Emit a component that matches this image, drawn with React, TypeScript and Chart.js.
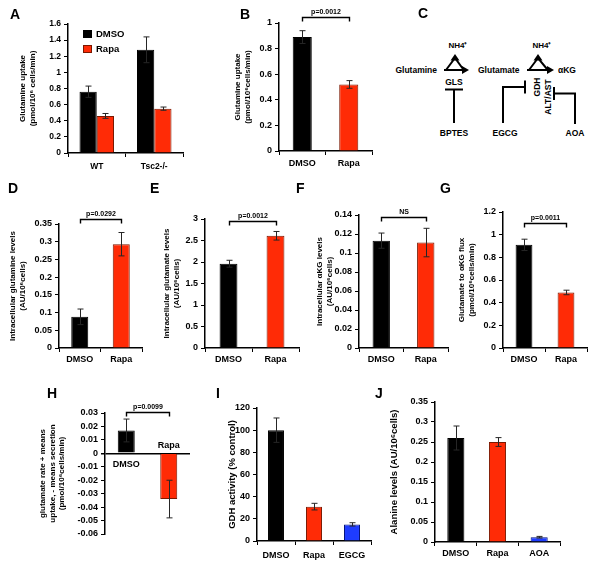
import React, { useEffect, useRef } from "react";
import { Chart, registerables } from "chart.js";
Chart.register(...registerables);

// ---------- DATA ----------
const aCategories = ["WT", "Tsc2-/-"];
const aDmso = [0.76, 1.28];
const aDmsoErr = [0.07, 0.16];
const aRapa = [0.46, 0.55];
const aRapaErr = [0.03, 0.02];

const twoLabels = ["DMSO", "Rapa"];
const bValues = [0.89, 0.52];
const bErr = [0.05, 0.03];
const dValues = [0.088, 0.293];
const dErr = [0.022, 0.033];
const eValues = [1.96, 2.61];
const eErr = [0.08, 0.1];
const fValues = [0.113, 0.111];
const fErr = [0.008, 0.015];
const gValues = [0.91, 0.49];
const gErr = [0.05, 0.02];
const hValues = [0.017, -0.034];
const hErr = [0.0085, 0.014];
const iLabels = ["DMSO", "Rapa", "EGCG"];
const iValues = [100, 31, 15];
const iErr = [11, 3, 1.5];
const jLabels = ["DMSO", "Rapa", "AOA"];
const jValues = [0.26, 0.25, 0.012];
const jErr = [0.03, 0.011, 0.002];

// ---------- STYLE ----------
const FONT = "'Liberation Sans', Arial, Helvetica, sans-serif";
const BLACK = "#000000";
const RED = "#FF2B06";
const RED_EDGE = "#7A1800";
const BLUE = "#1E3CFF";
const BLUE_EDGE = "#00107A";

type DS = { label: string; data: number[]; errors: number[]; bg: string[]; border: string[] };
type Spec = {
  labels: string[];
  datasets: DS[];
  left: number; right: number; top: number; bottom: number;
  min: number; max: number; step: number;
  title: string[]; titleX: number; titleSize?: number;
  tickFont: number;
  barFrac: number; catFrac: number;
  labelPad: number;
  bracket?: { text: string; y: number };
  legend?: boolean;
  zeroAxis?: boolean;
};

const two = (v: number[], e: number[]): DS[] => [
  { label: "v", data: v, errors: e, bg: [BLACK, RED], border: [BLACK, RED_EDGE] },
];
const three = (v: number[], e: number[]): DS[] => [
  { label: "v", data: v, errors: e, bg: [BLACK, RED, BLUE], border: [BLACK, RED_EDGE, BLUE_EDGE] },
];

const specs: Spec[] = [
  {
    labels: aCategories,
    datasets: [
      { label: "DMSO", data: aDmso, errors: aDmsoErr, bg: [BLACK, BLACK], border: [BLACK, BLACK] },
      { label: "Rapa", data: aRapa, errors: aRapaErr, bg: [RED, RED], border: [RED_EDGE, RED_EDGE] },
    ],
    left: 68, right: 183, top: 24, bottom: 153, min: 0, max: 1.6, step: 0.2,
    title: ["Glutamine uptake", "(pmol/10⁶ cells/min)"], titleX: 23,
    tickFont: 8.5, barFrac: 1, catFrac: 0.6, labelPad: 5, legend: true,
  },
  {
    labels: twoLabels, datasets: two(bValues, bErr),
    left: 279, right: 372, top: 23, bottom: 151, min: 0, max: 1, step: 0.2,
    title: ["Glutamine uptake", "(pmol/10⁶cells/min)"], titleX: 238,
    tickFont: 9, barFrac: 0.41, catFrac: 1, labelPad: 3,
    bracket: { text: "p=0.0012", y: 1.047 },
  },
  {
    labels: twoLabels, datasets: two(dValues, dErr),
    left: 59, right: 142, top: 224, bottom: 348, min: 0, max: 0.35, step: 0.05,
    title: ["Intracellular glutamine levels", "(AU/10⁶cells)"], titleX: 13,
    tickFont: 9, barFrac: 0.41, catFrac: 1, labelPad: 2,
    bracket: { text: "p=0.0292", y: 0.364 },
  },
  {
    labels: twoLabels, datasets: two(eValues, eErr),
    left: 205, right: 299, top: 219, bottom: 348, min: 0, max: 3, step: 0.5,
    title: ["Intracellular glutamate levels", "(AU/10⁶cells)"], titleX: 167,
    tickFont: 9, barFrac: 0.38, catFrac: 1, labelPad: 2,
    bracket: { text: "p=0.0012", y: 2.95 },
  },
  {
    labels: twoLabels, datasets: two(fValues, fErr),
    left: 359, right: 448, top: 215, bottom: 348, min: 0, max: 0.14, step: 0.02,
    title: ["Intracellular αKG levels", "(AU/10⁶cells)"], titleX: 320,
    tickFont: 9, barFrac: 0.39, catFrac: 1, labelPad: 2,
    bracket: { text: "NS", y: 0.138 },
  },
  {
    labels: twoLabels, datasets: two(gValues, gErr),
    left: 503, right: 587, top: 212, bottom: 348, min: 0, max: 1.2, step: 0.2,
    title: ["Glutamate to αKG flux", "(pmol/10⁶cells/min)"], titleX: 462,
    tickFont: 9, barFrac: 0.4, catFrac: 1, labelPad: 2,
    bracket: { text: "p=0.0011", y: 1.1 },
  },
  {
    labels: twoLabels, datasets: two(hValues, hErr),
    left: 105, right: 190, top: 413, bottom: 558, min: -0.06, max: 0.03, step: 0.01,
    title: ["glutamate rate + means", "uptake, - means secretion", "(pmol/10⁶cells/min)"], titleX: 43,
    tickFont: 9, barFrac: 0.4, catFrac: 1, labelPad: 2,
    bracket: { text: "p=0.0099", y: 0.0306 }, zeroAxis: true,
  },
  {
    labels: iLabels, datasets: three(iValues, iErr),
    left: 257, right: 371, top: 408, bottom: 541, min: 0, max: 120, step: 20,
    title: ["GDH activity (% control)"], titleX: 232, titleSize: 9.5,
    tickFont: 9, barFrac: 0.42, catFrac: 1, labelPad: 5,
  },
  {
    labels: jLabels, datasets: three(jValues, jErr),
    left: 435, right: 560, top: 402, bottom: 542, min: 0, max: 0.35, step: 0.05,
    title: ["Alanine levels (AU/10⁶cells)"], titleX: 394, titleSize: 9.5,
    tickFont: 9, barFrac: 0.41, catFrac: 1, labelPad: 2,
  },
];

const panelLetters = [
  { t: "A", x: 10, y: 6 }, { t: "B", x: 240, y: 6 }, { t: "C", x: 418, y: 5 },
  { t: "D", x: 8, y: 180 }, { t: "E", x: 150, y: 180 }, { t: "F", x: 296, y: 180 }, { t: "G", x: 440, y: 180 },
  { t: "H", x: 47, y: 385 }, { t: "I", x: 216, y: 385 }, { t: "J", x: 375, y: 385 },
];

// ---------- PLUGINS ----------
const errorBarPlugin = {
  id: "errorBars",
  afterDatasetsDraw(chart: any) {
    const ctx = chart.ctx;
    const ys = chart.scales.y;
    chart.data.datasets.forEach((ds: any, di: number) => {
      const meta = chart.getDatasetMeta(di);
      meta.data.forEach((el: any, i: number) => {
        const v = ds.data[i];
        const e = ds.errors[i];
        const x = Math.round(el.x) + 0.5;
        const y1 = ys.getPixelForValue(v + e);
        const y2 = ys.getPixelForValue(v - e);
        ctx.save();
        ctx.strokeStyle = "#262626";
        ctx.lineWidth = 1;
        ctx.beginPath();
        ctx.moveTo(x, y1); ctx.lineTo(x, y2);
        ctx.moveTo(x - 3, y1); ctx.lineTo(x + 3, y1);
        ctx.moveTo(x - 3, y2); ctx.lineTo(x + 3, y2);
        ctx.stroke();
        ctx.restore();
      });
    });
  },
};

const bracketPlugin = {
  id: "bracket",
  afterDraw(chart: any, _args: any, opts: any) {
    if (!opts || !opts.text) return;
    const ctx = chart.ctx;
    const xs = chart.scales.x;
    const ys = chart.scales.y;
    const x1 = Math.round(xs.getPixelForValue(0)) + 0.5;
    const x2 = Math.round(xs.getPixelForValue(1)) + 0.5;
    const y = Math.round(ys.getPixelForValue(opts.y)) + 0.5;
    ctx.save();
    ctx.strokeStyle = "#000";
    ctx.lineWidth = 1.4;
    ctx.beginPath();
    ctx.moveTo(x1, y + 4); ctx.lineTo(x1, y); ctx.lineTo(x2, y); ctx.lineTo(x2, y + 4);
    ctx.stroke();
    ctx.fillStyle = "#000";
    ctx.font = `bold 7px ${FONT}`;
    ctx.textAlign = "center";
    ctx.textBaseline = "bottom";
    ctx.fillText(opts.text, (x1 + x2) / 2, y - 2);
    ctx.restore();
  },
};

const legendPlugin = {
  id: "cornerLegend",
  afterDraw(chart: any, _args: any, opts: any) {
    if (!opts || !opts.show) return;
    const ctx = chart.ctx;
    const ca = chart.chartArea;
    ctx.save();
    chart.data.datasets.forEach((ds: any, i: number) => {
      const bx = ca.left + 15;
      const by = ca.top + 6 + i * 15;
      ctx.fillStyle = ds.backgroundColor[0];
      ctx.fillRect(bx, by, 9, 8);
      ctx.strokeStyle = ds.borderColor[0];
      ctx.lineWidth = 1;
      ctx.strokeRect(bx + 0.5, by + 0.5, 8, 7);
      ctx.fillStyle = "#000";
      ctx.font = `bold 9.5px ${FONT}`;
      ctx.textAlign = "left";
      ctx.textBaseline = "middle";
      ctx.fillText(ds.label, bx + 13, by + 4.5);
    });
    ctx.restore();
  },
};

const zeroLabelPlugin = {
  id: "zeroLabels",
  afterDraw(chart: any, _args: any, opts: any) {
    if (!opts || !opts.show) return;
    const ctx = chart.ctx;
    const ys = chart.scales.y;
    const y0 = ys.getPixelForValue(0);
    const meta = chart.getDatasetMeta(0);
    ctx.save();
    ctx.fillStyle = "#000";
    ctx.font = `bold 9px ${FONT}`;
    ctx.textAlign = "center";
    ctx.textBaseline = "middle";
    meta.data.forEach((el: any, i: number) => {
      const v = chart.data.datasets[0].data[i];
      ctx.fillText(chart.data.labels[i], el.x, v >= 0 ? y0 + 11 : y0 - 8);
    });
    ctx.restore();
  },
};

const fmt = (v: number) => String(Number(Number(v).toFixed(6)));

function BarPanel({ spec }: { spec: Spec }) {
  const ref = useRef<HTMLCanvasElement>(null);
  const cL = spec.titleX - 12;
  const cT = spec.top - 30;
  const cR = spec.right + 4;
  const cB = spec.bottom + 24;
  const W = cR - cL;
  const H = cB - cT;
  useEffect(() => {
    const tSize = spec.titleSize || 8;
    const lineH = tSize * 1.2;
    const chart = new Chart(ref.current as HTMLCanvasElement, {
      type: "bar",
      data: {
        labels: spec.labels,
        datasets: spec.datasets.map((d) => ({
          label: d.label,
          data: d.data,
          errors: d.errors,
          backgroundColor: d.bg,
          borderColor: d.border,
          borderWidth: 1,
          barPercentage: spec.barFrac,
          categoryPercentage: spec.catFrac,
        })) as any,
      },
      options: {
        animation: false,
        responsive: false,
        maintainAspectRatio: false,
        layout: {
          padding: {
            left: 0,
            top: spec.top - cT,
            right: cR - spec.right,
            bottom: spec.zeroAxis ? cB - spec.bottom : 0,
          },
        },
        plugins: {
          legend: { display: false },
          tooltip: { enabled: false },
          bracket: spec.bracket || {},
          cornerLegend: { show: !!spec.legend },
          zeroLabels: { show: !!spec.zeroAxis },
        } as any,
        scales: {
          x: {
            display: !spec.zeroAxis,
            afterFit: (s: any) => { s.height = cB - spec.bottom; },
            grid: {
              display: true, drawOnChartArea: false, drawTicks: true, tickLength: 4,
              color: "#000", tickColor: "#000", offset: true,
            },
            border: { display: true, color: "#000", width: 1.5 },
            ticks: {
              color: "#000", padding: spec.labelPad, maxRotation: 0, autoSkip: false,
              font: { family: FONT, size: spec.tickFont, weight: "bold" },
            },
          },
          y: {
            min: spec.min,
            max: spec.max,
            afterFit: (s: any) => { s.width = spec.left - cL; },
            grid: {
              display: true,
              drawOnChartArea: !!spec.zeroAxis,
              drawTicks: true,
              tickLength: 4,
              color: (c: any) => (spec.zeroAxis ? (Math.abs(c.tick.value) < 1e-9 ? "#000" : "rgba(0,0,0,0)") : "#000"),
              lineWidth: (c: any) => (spec.zeroAxis && Math.abs(c.tick.value) < 1e-9 ? 1.5 : 1),
              tickColor: "#000",
            },
            border: { display: true, color: "#000", width: 1.5 },
            ticks: {
              stepSize: spec.step,
              autoSkip: false,
              color: "#000",
              padding: 3,
              callback: (v: any) => fmt(v),
              font: { family: FONT, size: spec.tickFont, weight: "bold" },
            },
            title: {
              display: true,
              text: spec.title,
              color: "#000",
              font: { family: FONT, size: tSize, weight: "bold", lineHeight: 1.2 },
              padding: { top: 12 - lineH / 2, bottom: 0 },
            },
          },
        },
      } as any,
      plugins: [errorBarPlugin, bracketPlugin, legendPlugin, zeroLabelPlugin],
    });
    return () => chart.destroy();
  }, []);
  return (
    <canvas
      ref={ref}
      width={W}
      height={H}
      style={{ position: "absolute", left: cL, top: cT, width: W, height: H }}
    />
  );
}

function Pathway() {
  const txt = { fontFamily: FONT, fontWeight: "bold" as const, fontSize: 8.5, fill: "#000" };
  const sw = 2;
  return (
    <svg
      width={220}
      height={150}
      viewBox="380 0 220 150"
      style={{ position: "absolute", left: 380, top: 0 }}
    >
      <text x={437} y={73} textAnchor="end" {...txt}>Glutamine</text>
      <text x={458} y={48} textAnchor="middle" {...txt} fontSize={8}>NH4⁺</text>
      <line x1={444} y1={70} x2={463} y2={70} stroke="#000" strokeWidth={sw} />
      <polygon points="469,70 462,66 462,74" fill="#000" />
      <polyline points="446,70 455,58 463,69" fill="none" stroke="#000" strokeWidth={sw} />
      <polygon points="455,54 450.5,60.5 459.5,60.5" fill="#000" />

      <text x={478} y={73} textAnchor="start" {...txt}>Glutamate</text>
      <text x={542} y={48} textAnchor="middle" {...txt} fontSize={8}>NH4⁺</text>
      <line x1={527} y1={70} x2={548} y2={70} stroke="#000" strokeWidth={sw} />
      <polygon points="554,70 547,66 547,74" fill="#000" />
      <polyline points="529,70 538,58 547,69" fill="none" stroke="#000" strokeWidth={sw} />
      <polygon points="538,54 533.5,60.5 542.5,60.5" fill="#000" />
      <text x={558} y={73} textAnchor="start" {...txt}>αKG</text>

      <text x={454} y={85} textAnchor="middle" {...txt}>GLS</text>
      <line x1={445} y1={89.5} x2={463} y2={89.5} stroke="#000" strokeWidth={sw} />
      <line x1={454} y1={89} x2={454} y2={123} stroke="#000" strokeWidth={sw} />
      <text x={454} y={136} textAnchor="middle" {...txt}>BPTES</text>

      <polyline points="503,123 503,87 524,87" fill="none" stroke="#000" strokeWidth={sw} />
      <line x1={525} y1={80.5} x2={525} y2={93.5} stroke="#000" strokeWidth={sw} />
      <text x={505} y={136} textAnchor="middle" {...txt}>EGCG</text>

      <text transform="translate(537,87) rotate(-90)" textAnchor="middle" dominantBaseline="central" {...txt}>GDH</text>
      <text transform="translate(548,97) rotate(-90)" textAnchor="middle" dominantBaseline="central" {...txt}>ALT/AST</text>

      <line x1={554} y1={87} x2={554} y2={100} stroke="#000" strokeWidth={sw} />
      <polyline points="554,93.5 575,93.5 575,124" fill="none" stroke="#000" strokeWidth={sw} />
      <text x={575} y={136} textAnchor="middle" {...txt}>AOA</text>
    </svg>
  );
}

export default function App() {
  return (
    <div
      style={{
        position: "absolute", left: 0, top: 0, width: 600, height: 570,
        background: "#fff", overflow: "hidden",
      }}
    >
      {specs.map((s, i) => (
        <BarPanel key={i} spec={s} />
      ))}
      <Pathway />
      {panelLetters.map((p) => (
        <div
          key={p.t}
          style={{
            position: "absolute", left: p.x, top: p.y, fontFamily: FONT,
            fontWeight: "bold", fontSize: 14, lineHeight: "16px", color: "#000",
          }}
        >
          {p.t}
        </div>
      ))}
    </div>
  );
}
